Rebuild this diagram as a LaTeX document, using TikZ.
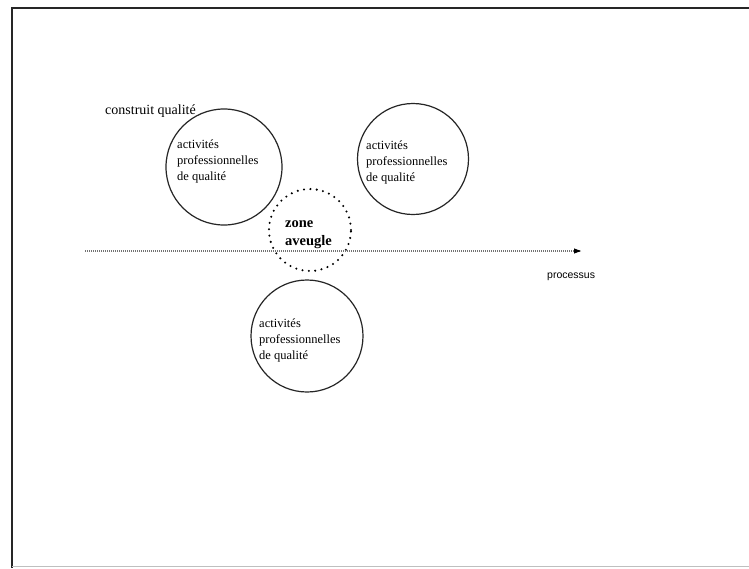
\documentclass[tikz,border=0pt]{standalone}
\usepackage{fontspec}
\setmainfont{Liberation Serif}
\newfontfamily\procfont{Liberation Sans}
\usetikzlibrary{arrows.meta}
\begin{document}
\begin{tikzpicture}[x=1pt,y=-1pt,
  ring/.style={circle,draw=black!85,line width=1.2pt,minimum size=#1,inner sep=0pt},
  blind/.style={circle,draw=black,line width=2.3pt,dash pattern=on 0pt off 6.4pt,line cap=round,minimum size=#1,inner sep=0pt},
  circtext/.style={align=left,font=\fontsize{12.5}{16}\selectfont,inner sep=0pt,anchor=north west},
  axis/.style={draw=black!55,line width=1.4pt,dash pattern=on 1pt off 1pt},
]
\useasboundingbox (0,0) rectangle (749,568);
\fill[white] (0,0) rectangle (749,568);
% page frame
\draw[black!85,line width=1.6pt] (12,568) -- (12,8) -- (749,8);
\draw[black!25,line width=1pt] (12,566) -- (749,566);

% circles of quality activities
\node[ring=116pt] (c1) at (224,167) {};
\node[ring=111pt] (c2) at (413,159) {};
\node[ring=112pt] (c3) at (307,336) {};
\node[blind=82pt] (z) at (310,230) {};

\node[circtext] (t1) at (177,140) {activités\\professionnelles\\de qualité};
\node[circtext] (t2) at (366,141) {activités\\professionnelles\\de qualité};
\node[circtext] (t3) at (259,319) {activités\\professionnelles\\de qualité};
\node[circtext,font=\bfseries\fontsize{14.5}{18}\selectfont] (tz) at (285,220) {zone\\aveugle};

\node[anchor=base west,inner sep=0pt,font=\fontsize{14}{16}\selectfont] (cq) at (105,114) {construit qualité};

% process axis
\coordinate (a0) at (85,251);
\coordinate (a1) at (581,251);
\draw[axis] (a0) -- (a1);
\fill[black] (a1) -- ++(-7,-2.6) -- ++(0,5.2) -- cycle;
\node[anchor=base west,inner sep=0pt,font=\procfont\fontsize{10.5}{12}\selectfont] (proc) at (547,278) {processus};
\end{tikzpicture}
\end{document}
